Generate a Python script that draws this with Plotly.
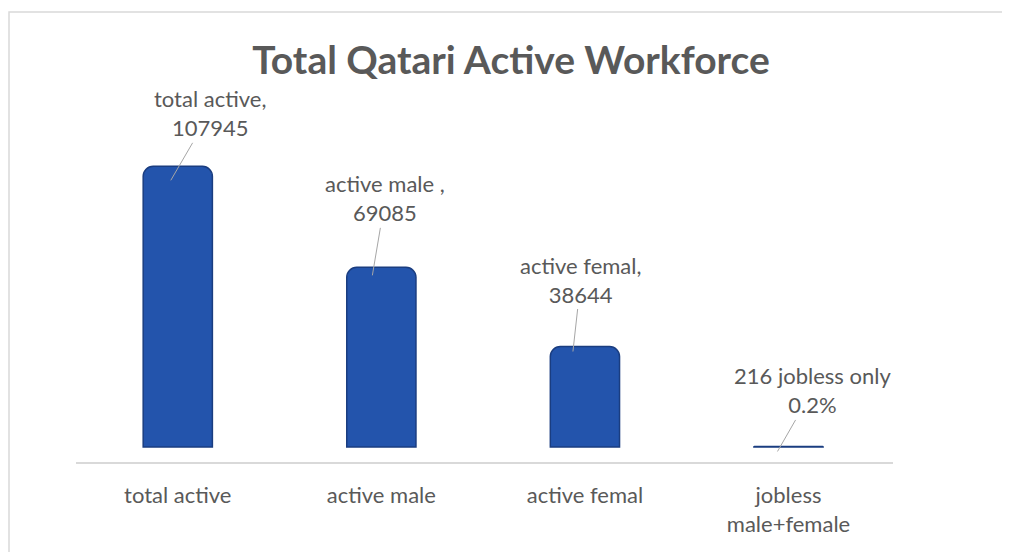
import plotly.graph_objects as go

# chart data
categories = ["total active", "active male", "active femal", "jobless male+female"]
tick_labels = ["total active", "active male", "active femal", "jobless<br>male+female"]
values = [107945, 69085, 38644, 216]
point_labels = ["total active,<br>107945", "active male ,<br>69085",
                "active femal,<br>38644", "216 jobless only<br>0.2%"]

# leader line geometry (pixels): tip shift from bar top, label offset from tip
tip_dx = [-7, -9, -12, -11]
tip_dy = [-14, -8, -5, -5]
label_ax = [39, 13, 8, 35]
label_ay = [-67, -77, -72, -61]

FONT = "Lato, 'Open Sans', sans-serif"
GREY = "#595959"

fig = go.Figure()
fig.add_trace(go.Bar(
    x=categories, y=values, width=0.34,
    marker=dict(color="#2354AC", line=dict(color="#1A3D80", width=1.5)),
    hoverinfo="x+y",
))

for c, v, t, dx, dy, ax, ay in zip(categories, values, point_labels,
                                   tip_dx, tip_dy, label_ax, label_ay):
    fig.add_annotation(
        x=c, y=v, text=t, showarrow=True, arrowhead=0, arrowwidth=1,
        arrowcolor="#A6A6A6", ax=ax, ay=ay, standoff=0,
        xshift=dx, yshift=dy,
        font=dict(family=FONT, size=22, color=GREY),
    )

# outer chart border (partly cut off by the window, as in the source)
fig.add_shape(type="rect", xref="paper", yref="paper",
              x0=-0.082, x1=1.2, y0=-0.4, y1=1.226,
              line=dict(color="#D9D9D9", width=1.5), layer="below")

fig.update_layout(
    width=1002, height=544,
    paper_bgcolor="white", plot_bgcolor="white",
    margin=dict(l=68, r=117, t=87, b=90),
    title=dict(text="<b>Total Qatari Active Workforce</b>", x=0.502, xanchor="center",
               y=0.904, yanchor="middle",
               font=dict(family=FONT, size=39, color=GREY)),
    barcornerradius=10,
    showlegend=False,
    font=dict(family=FONT, size=22, color=GREY),
)
fig.update_xaxes(
    tickmode="array", tickvals=categories, ticktext=tick_labels,
    showline=True, linecolor="#D9D9D9", linewidth=1.5,
    showgrid=False, ticks="", ticklabelstandoff=13,
    tickfont=dict(family=FONT, size=22, color=GREY),
)
fig.update_yaxes(visible=False, range=[-5770, 135380], showgrid=False, zeroline=False)

fig.write_html("out.html")
